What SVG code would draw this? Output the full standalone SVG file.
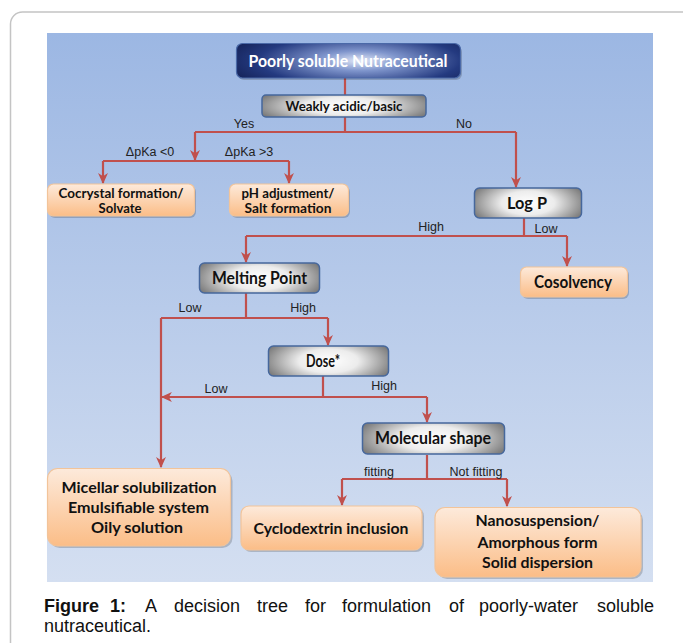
<svg xmlns="http://www.w3.org/2000/svg" width="683" height="643" viewBox="0 0 683 643">
<defs>
<linearGradient id="panel" x1="0" y1="0" x2="0" y2="1">
<stop offset="0" stop-color="#9cb7e3"/>
<stop offset="1" stop-color="#d4dff1"/>
</linearGradient>
<radialGradient id="navy" cx="0.55" cy="0.5" r="0.6" gradientTransform="translate(0.55,0.5) scale(1,1.6) translate(-0.55,-0.5)">
<stop offset="0" stop-color="#dfe6f6"/>
<stop offset="0.3" stop-color="#7f95cc"/>
<stop offset="0.75" stop-color="#243a80"/>
<stop offset="1" stop-color="#17265e"/>
</radialGradient>
<radialGradient id="gray" cx="0.5" cy="0.5" r="0.55" gradientTransform="translate(0.5,0.5) scale(1,1.6) translate(-0.5,-0.5)">
<stop offset="0" stop-color="#ffffff"/>
<stop offset="0.45" stop-color="#ececec"/>
<stop offset="1" stop-color="#7c7c7c"/>
</radialGradient>
<linearGradient id="orange" x1="0" y1="0" x2="0" y2="1">
<stop offset="0" stop-color="#fdeadb"/>
<stop offset="1" stop-color="#fbbd87"/>
</linearGradient>
<marker id="arr" markerUnits="userSpaceOnUse" markerWidth="11" markerHeight="11" viewBox="0 0 10 10" refX="9" refY="5" orient="auto">
<path d="M0,0.5 L10,5 L0,9.5 L2.8,5 z" fill="#c0504d"/>
</marker>
</defs>
<style>
.frame{fill:#ffffff;stroke:#c4c4c4;stroke-width:1.5}
.shadow{fill:#000000;opacity:0.18}
.navy{fill:url(#navy);stroke:#4a69a8;stroke-width:1.2}
.gray{fill:url(#gray);stroke:#46679c;stroke-width:1.5}
.orange{fill:url(#orange);stroke:#f2c49a;stroke-width:1.2}
.conn path{fill:none;stroke:#c0504d;stroke-width:2.2}
.bt{font-family:Lato,"Open Sans",sans-serif;font-weight:bold;fill:#111111;text-anchor:middle}
.lbl{font-family:"Liberation Sans",Arial,sans-serif;font-size:12.5px;fill:#222222;text-anchor:middle}
.cap{font-family:"Liberation Sans",Arial,sans-serif;font-size:18px;fill:#111111}
</style>
<rect class="frame" x="10.5" y="12" width="720" height="700" rx="12"/>
<rect x="47" y="33" width="606" height="549" fill="url(#panel)"/>

<g class="conn" id="connectors">
<path d="M345,78 V95"/>
<path d="M345,117 V132 M195,132 H516"/>
<path d="M195,132 V160" marker-end="url(#arr)"/>
<path d="M103,161 H289"/>
<path d="M103,161 V183" marker-end="url(#arr)"/>
<path d="M289,161 V183" marker-end="url(#arr)"/>
<path d="M516,132 V187" marker-end="url(#arr)"/>
<path d="M524,218 V236 M246,236 H567"/>
<path d="M246,236 V262" marker-end="url(#arr)"/>
<path d="M567,236 V266" marker-end="url(#arr)"/>
<path d="M246,293 V318 M161,318 H328"/>
<path d="M328,318 V345" marker-end="url(#arr)"/>
<path d="M161,318 V467" marker-end="url(#arr)"/>
<path d="M323,376 V397 M323,397 H427"/>
<path d="M323,397 H162" marker-end="url(#arr)"/>
<path d="M427,397 V422" marker-end="url(#arr)"/>
<path d="M427,455 V479 M342,479 H507"/>
<path d="M342,479 V505" marker-end="url(#arr)"/>
<path d="M507,479 V506" marker-end="url(#arr)"/>
</g>

<g id="edge-labels">
<text class="lbl" x="244" y="128">Yes</text>
<text class="lbl" x="464" y="128">No</text>
<text class="lbl" x="150" y="156">ΔpKa &lt;0</text>
<text class="lbl" x="249" y="156">ΔpKa &gt;3</text>
<text class="lbl" x="431" y="231">High</text>
<text class="lbl" x="546" y="233">Low</text>
<text class="lbl" x="190" y="312">Low</text>
<text class="lbl" x="303" y="312">High</text>
<text class="lbl" x="216" y="393">Low</text>
<text class="lbl" x="384" y="390">High</text>
<text class="lbl" x="379" y="476">fitting</text>
<text class="lbl" x="476" y="476">Not fitting</text>
</g>

<g id="n-poorly">
<rect class="shadow" x="238" y="46" width="224" height="34" rx="6"/>
<rect class="navy" x="236.5" y="43.5" width="224" height="34.5" rx="6"/>
<text class="bt" x="348" y="67" font-size="17" style="fill:#ffffff" textLength="199" lengthAdjust="spacingAndGlyphs">Poorly soluble Nutraceutical</text>
</g>
<g id="n-weakly">
<rect class="gray" x="262" y="95" width="164" height="22" rx="4"/>
<text class="bt" x="344" y="110.5" font-size="14" textLength="117" lengthAdjust="spacingAndGlyphs">Weakly acidic/basic</text>
</g>
<g id="n-cocrystal">
<rect class="shadow" x="49" y="186" width="147" height="32" rx="6"/>
<rect class="orange" x="47.5" y="184" width="147" height="32" rx="6"/>
<text class="bt" x="121" y="197.5" font-size="14" textLength="125" lengthAdjust="spacingAndGlyphs">Cocrystal formation/</text>
<text class="bt" x="120" y="213" font-size="14" textLength="43" lengthAdjust="spacingAndGlyphs">Solvate</text>
</g>
<g id="n-ph">
<rect class="shadow" x="231" y="186" width="119" height="32" rx="6"/>
<rect class="orange" x="229.5" y="184" width="119" height="32" rx="6"/>
<text class="bt" x="288" y="197.5" font-size="14" textLength="93" lengthAdjust="spacingAndGlyphs">pH adjustment/</text>
<text class="bt" x="288" y="213" font-size="14" textLength="87" lengthAdjust="spacingAndGlyphs">Salt formation</text>
</g>
<g id="n-logp">
<rect class="gray" x="474.5" y="188" width="107" height="30" rx="5"/>
<text class="bt" x="527" y="208.5" font-size="17" textLength="40" lengthAdjust="spacingAndGlyphs">Log P</text>
</g>
<g id="n-melting">
<rect class="gray" x="199.5" y="263" width="120" height="30" rx="5"/>
<text class="bt" x="259.5" y="283.5" font-size="16.5" textLength="95" lengthAdjust="spacingAndGlyphs">Melting Point</text>
</g>
<g id="n-cosolvency">
<rect class="shadow" x="522" y="269" width="107" height="30" rx="6"/>
<rect class="orange" x="520.5" y="267" width="107" height="30" rx="6"/>
<text class="bt" x="573" y="287.5" font-size="16.5" textLength="78" lengthAdjust="spacingAndGlyphs">Cosolvency</text>
</g>
<g id="n-dose">
<rect class="gray" x="268.5" y="346" width="120" height="30" rx="5"/>
<text class="bt" x="323" y="366.5" font-size="16.5" textLength="34" lengthAdjust="spacingAndGlyphs">Dose*</text>
</g>
<g id="n-molecular">
<rect class="gray" x="362.5" y="423" width="142" height="31" rx="5"/>
<text class="bt" x="433" y="443.5" font-size="16.5" textLength="116" lengthAdjust="spacingAndGlyphs">Molecular shape</text>
</g>
<g id="n-micellar">
<rect class="shadow" x="49.5" y="471" width="183" height="77" rx="10"/>
<rect class="orange" x="47.5" y="468.5" width="183" height="77.5" rx="10"/>
<text class="bt" x="139" y="492.5" font-size="16" textLength="155" lengthAdjust="spacingAndGlyphs">Micellar solubilization</text>
<text class="bt" x="138.5" y="513" font-size="16" textLength="141" lengthAdjust="spacingAndGlyphs">Emulsifiable system</text>
<text class="bt" x="137" y="533" font-size="16" textLength="92" lengthAdjust="spacingAndGlyphs">Oily solution</text>
</g>
<g id="n-cyclodextrin">
<rect class="shadow" x="243" y="508" width="181" height="44" rx="8"/>
<rect class="orange" x="241" y="506" width="181" height="44" rx="8"/>
<text class="bt" x="331" y="534" font-size="16" textLength="155" lengthAdjust="spacingAndGlyphs">Cyclodextrin inclusion</text>
</g>
<g id="n-nano">
<rect class="shadow" x="437" y="510" width="206" height="69" rx="10"/>
<rect class="orange" x="435" y="507.5" width="206" height="69.5" rx="10"/>
<text class="bt" x="537.5" y="526" font-size="16" textLength="124" lengthAdjust="spacingAndGlyphs">Nanosuspension/</text>
<text class="bt" x="537.5" y="548" font-size="16" textLength="120" lengthAdjust="spacingAndGlyphs">Amorphous form</text>
<text class="bt" x="537.5" y="568" font-size="16" textLength="111" lengthAdjust="spacingAndGlyphs">Solid dispersion</text>
</g>

<g id="caption">
<text class="cap" y="612"><tspan x="44" font-weight="bold">Figure</tspan><tspan x="110" font-weight="bold">1:</tspan><tspan x="145">A</tspan><tspan x="174">decision</tspan><tspan x="257">tree</tspan><tspan x="305">for</tspan><tspan x="342">formulation</tspan><tspan x="449">of</tspan><tspan x="479">poorly-water</tspan><tspan x="597">soluble</tspan></text>
<text class="cap" x="44" y="632">nutraceutical.</text>
</g>
</svg>
